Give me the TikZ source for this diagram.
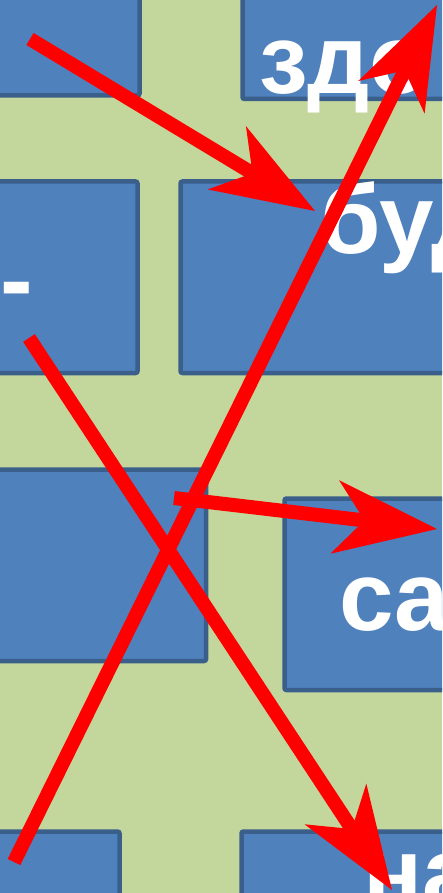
\documentclass[tikz,border=0pt]{standalone}
\usepackage{fontspec}
\setmainfont{Liberation Sans}
\usetikzlibrary{arrows.meta}
\definecolor{bg}{HTML}{C3D69B}
\definecolor{boxfill}{HTML}{4F81BD}
\definecolor{boxline}{HTML}{3A5F8B}
\definecolor{arrowred}{HTML}{FF0000}
\begin{document}
\begin{tikzpicture}[x=1pt,y=-1pt,
  panel/.style={fill=boxfill,draw=boxline,line width=4.5pt,rounded corners=2pt,inner sep=0pt,outer sep=0pt},
  word/.style={anchor=base west,inner sep=0pt,outer sep=0pt,text=white,font=\fontsize{98}{100}\selectfont\bfseries},
  redarrow/.style={draw=arrowred,line width=14pt,-{Stealth[length=103pt,width=74pt,inset=30pt,line width=0pt]}}]
\useasboundingbox (0,0) rectangle (442,893);
\clip (0,0) rectangle (442,893);
\fill[bg] (0,0) rectangle (442,893);
% boxes
\node[panel,minimum width=159.5pt,minimum height=115.5pt] (b1) at (59.75,37.75) {};
\node[panel,minimum width=227.5pt,minimum height=119pt] (b2) at (356.25,39.5) {};
\node[panel,minimum width=157.5pt,minimum height=191.5pt] (b3) at (58.75,277.25) {};
\node[panel,minimum width=289.5pt,minimum height=191.5pt] (b4) at (325.25,277.25) {};
\node[panel,minimum width=226pt,minimum height=191.5pt] (b5) at (93,565.25) {};
\node[panel,minimum width=185.5pt,minimum height=191.5pt] (b6) at (377.25,594.25) {};
\node[panel,minimum width=139.5pt,minimum height=88.5pt] (b7) at (49.75,875.75) {};
\node[panel,minimum width=228.5pt,minimum height=88.5pt] (b8) at (355.75,875.75) {};
% texts
\node[word] (t1) at (259,94) {здо};
\node[word] (t2) at (320,253) {буд};
\node[word] (t3) at (339,630) {са};
\node[word] (t4) at (363,906) {на};
\node[word] (t5) at (0,313) {-};
% arrow ends
\coordinate (a1s) at (30,39);
\coordinate (a1e) at (315,211);
\coordinate (a2s) at (14,862);
\coordinate (a2e) at (437,5);
\coordinate (a3s) at (174,498);
\coordinate (a3e) at (437,529);
\coordinate (a4s) at (29,338);
\coordinate (a4e) at (392,890);
\draw[redarrow] (a1s) -- (a1e);
\draw[redarrow] (a4s) -- (a4e);
\draw[redarrow] (a3s) -- (a3e);
\draw[redarrow] (a2s) -- (a2e);
\end{tikzpicture}
\end{document}
